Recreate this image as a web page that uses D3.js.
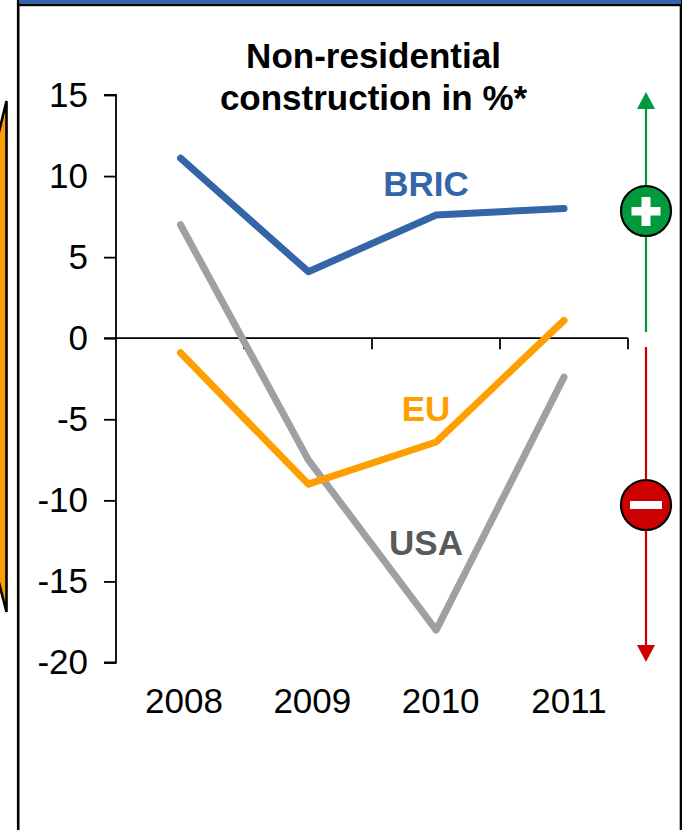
<!DOCTYPE html>
<html><head><meta charset="utf-8">
<script src="https://cdn.jsdelivr.net/npm/d3@7/dist/d3.min.js"></script>
<style>html,body{margin:0;padding:0;background:#fff}svg{display:block}text{font-family:"Liberation Sans",Arial,sans-serif}</style>
</head><body><svg id="c" width="682" height="830"></svg>
<script>
const years = ["2008","2009","2010","2011"];
const bric = [11.1,4.1,7.6,8.0];
const eu = [-0.9,-9.0,-6.4,1.1];
const usa = [7.0,-7.5,-18.0,-2.4];
const yTicks = [15,10,5,0,-5,-10,-15,-20];
const titleLines = ["Non-residential","construction in %*"];

const svg = d3.select("#c");
const x = d3.scalePoint().domain(years).range([180.5,564]);
const xLab = d3.scalePoint().domain(years).range([184,569]);
const y = d3.scaleLinear().domain([-20,15]).range([662.5,95]);
const xEdges = [116,244,372,500,628];

// frame
svg.append("rect").attr("x",18.2).attr("y",-3).attr("width",662.8).attr("height",840).attr("fill","#fff").attr("stroke","#000").attr("stroke-width",2.6);
svg.append("rect").attr("x",19).attr("y",0).attr("width",662).attr("height",4).attr("fill","#3465a8");
svg.append("rect").attr("x",18).attr("y",4).attr("width",664).attr("height",2.2).attr("fill","#000");

// orange shape at left
svg.append("path").attr("d","M6.5,101 L-3,140 V575 L6.5,612 Z").attr("fill","#ff9e00").attr("stroke","#000").attr("stroke-width",2.6);

// y axis
const yAxis = d3.axisLeft(y).tickValues(yTicks).tickSize(12).tickPadding(0).tickFormat(d=>String(d));
const gy = svg.append("g").attr("transform","translate(116,0)").call(yAxis);
gy.select(".domain").attr("d",`M-12,${y(15)}H0V${y(-20)}H-12`).attr("stroke","#000").attr("stroke-width",1.8).attr("fill","none");
gy.selectAll(".tick line").attr("stroke","#000").attr("stroke-width",1.8);
gy.selectAll(".tick text").attr("x",-28).attr("y",-1.2).attr("dy","0.35em").attr("font-size",35).attr("fill","#000").style("font-family","'Liberation Sans',Arial,sans-serif").attr("text-anchor","end");

// x axis at zero
const y0 = y(0);
svg.append("line").attr("x1",104).attr("x2",628).attr("y1",y0).attr("y2",y0).attr("stroke","#000").attr("stroke-width",1.8);
svg.selectAll(".xt").data(xEdges.slice(1)).enter().append("line").attr("x1",d=>d).attr("x2",d=>d).attr("y1",y0).attr("y2",y0+11).attr("stroke","#000").attr("stroke-width",1.8);
svg.selectAll(".xl").data(years).enter().append("text").attr("x",d=>xLab(d)).attr("y",713).attr("text-anchor","middle").attr("font-size",35).attr("fill","#000").text(d=>d);

// lines
const line = d3.line().x((d,i)=>x(years[i])).y(d=>y(d));
[[usa,"#a0a0a0"],[bric,"#3465a8"],[eu,"#ff9e00"]].forEach(([s,c])=>{
  svg.append("path").attr("d",line(s)).attr("fill","none").attr("stroke",c).attr("stroke-width",7).attr("stroke-linejoin","round").attr("stroke-linecap","round");
});

// labels
const lab=(t,xp,yp,c)=>svg.append("text").attr("x",xp).attr("y",yp).attr("text-anchor","middle").attr("font-size",35).attr("font-weight","bold").attr("fill",c).text(t);
lab("BRIC",426,196,"#3465a8");
lab("EU",426,421,"#ff9e00");
lab("USA",426,555,"#595959");
titleLines.forEach((t,i)=>svg.append("text").attr("x",373.5).attr("y",67.5+i*42).attr("text-anchor","middle").attr("font-size",35).attr("font-weight","bold").attr("fill","#000").text(t));

// right arrows
const ax=646;
svg.append("line").attr("x1",ax).attr("x2",ax).attr("y1",105).attr("y2",332).attr("stroke","#009a3d").attr("stroke-width",2.2);
svg.append("path").attr("d",`M${ax},92 L${ax+9},109 L${ax-9},109 Z`).attr("fill","#009a3d");
svg.append("line").attr("x1",ax).attr("x2",ax).attr("y1",347).attr("y2",648).attr("stroke","#cc0000").attr("stroke-width",2.2);
svg.append("path").attr("d",`M${ax},662 L${ax+9},645 L${ax-9},645 Z`).attr("fill","#cc0000");
svg.append("circle").attr("cx",ax).attr("cy",211).attr("r",25).attr("fill","#009a3d").attr("stroke","#000").attr("stroke-width",2.2);
svg.append("path").attr("d",`M${ax-14.5},207 H${ax-4.5} V197 H${ax+4.5} V207 H${ax+14.5} V215.5 H${ax+4.5} V226 H${ax-4.5} V215.5 H${ax-14.5} Z`).attr("fill","#fff");
svg.append("circle").attr("cx",ax).attr("cy",505).attr("r",25).attr("fill","#cc0000").attr("stroke","#000").attr("stroke-width",2.2);
svg.append("rect").attr("x",ax-16).attr("y",501).attr("width",32).attr("height",8).attr("fill","#fff");
</script></body></html>
